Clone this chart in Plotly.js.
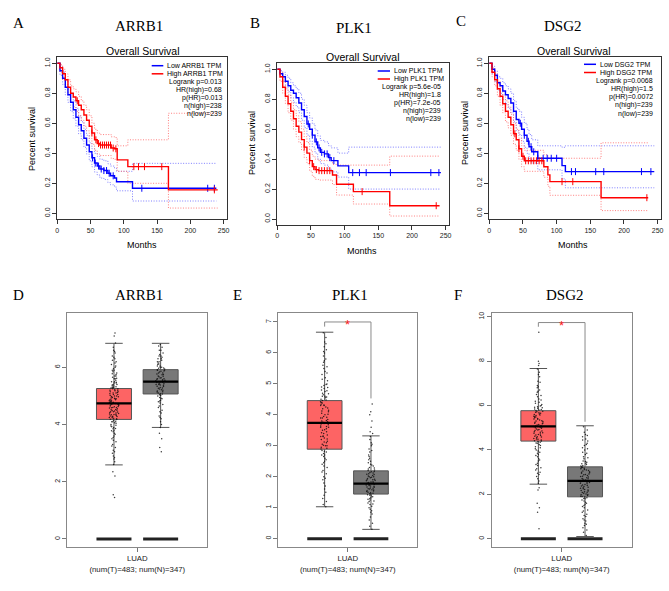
<!DOCTYPE html>
<html><head><meta charset="utf-8">
<script src="https://cdn.plot.ly/plotly-3.0.1.min.js"></script>
<style>html,body{margin:0;padding:0;background:#fff;}#chart{width:669px;height:591px;}</style>
</head><body><div id="chart"></div>
<script>
// ---------------- DATA ----------------
const monthTicks = [0, 50, 100, 150, 200, 250];
const survTicks = [0, 0.2, 0.4, 0.6, 0.8, 1.0];

// A: ARRB1 survival
const A_lowT  = [0,4,8,12,16,20,24,28,32,36,40,44,48,52,56,60,64,70,76,80,86,89,113,239];
const A_lowS  = [1.0,0.95,0.9,0.84,0.79,0.74,0.69,0.64,0.59,0.55,0.5,0.455,0.41,0.37,0.335,0.315,0.295,0.285,0.267,0.25,0.235,0.21,0.167,0.167];
const A_lowUp = [1.0,0.98,0.94,0.89,0.84,0.8,0.75,0.7,0.65,0.61,0.56,0.52,0.47,0.43,0.4,0.38,0.36,0.35,0.33,0.315,0.3,0.28,0.333,0.333];
const A_lowLo = [1.0,0.92,0.86,0.79,0.74,0.68,0.63,0.58,0.53,0.49,0.44,0.395,0.35,0.31,0.275,0.255,0.235,0.225,0.205,0.19,0.175,0.15,0.082,0.082];
const A_lowCens = [53,57,62,66,70,74,78,84,127,226,236];
const A_highT  = [0,4,8,12,16,20,24,28,32,36,40,44,48,52,56,60,64,81,86,90,106,167,241];
const A_highS  = [1.0,0.97,0.93,0.89,0.84,0.8,0.775,0.75,0.72,0.69,0.655,0.62,0.58,0.535,0.49,0.465,0.455,0.435,0.43,0.356,0.311,0.156,0.156];
const A_highUp = [1.0,0.99,0.96,0.93,0.89,0.85,0.83,0.81,0.78,0.75,0.72,0.69,0.65,0.6,0.56,0.535,0.525,0.51,0.505,0.45,0.49,0.667,0.667];
const A_highLo = [1.0,0.94,0.89,0.84,0.79,0.74,0.71,0.68,0.65,0.62,0.58,0.55,0.5,0.46,0.42,0.395,0.385,0.365,0.36,0.28,0.2,0.035,0.035];
const A_highCens = [30,52,58,62,65,68,71,74,77,80,84,88,115,122,131,157,236];
const A_stats = ['Logrank p=0.013','HR(high)=0.68','p(HR)=0.013','n(high)=238','n(low)=239'];

// B: PLK1 survival
const B_lowT  = [0,4,8,12,16,20,24,28,32,36,40,44,48,52,56,60,64,70,76,80,90,106,243];
const B_lowS  = [1.0,0.97,0.95,0.92,0.89,0.86,0.84,0.81,0.775,0.73,0.685,0.635,0.6,0.56,0.515,0.475,0.445,0.435,0.41,0.39,0.355,0.31,0.31];
const B_lowUp = [1.0,0.99,0.98,0.96,0.94,0.91,0.89,0.87,0.84,0.8,0.76,0.71,0.675,0.635,0.595,0.555,0.525,0.515,0.49,0.475,0.44,0.48,0.48];
const B_lowLo = [1.0,0.95,0.92,0.88,0.85,0.81,0.78,0.75,0.71,0.66,0.61,0.56,0.52,0.48,0.44,0.4,0.37,0.36,0.335,0.315,0.28,0.2,0.2];
const B_lowCens = [46,52,58,62,66,70,74,78,84,112,122,132,168,228,240];
const B_highT  = [0,4,8,12,16,20,24,28,32,36,40,44,48,52,56,61,82,88,113,167,241];
const B_highS  = [1.0,0.95,0.88,0.82,0.77,0.72,0.67,0.62,0.58,0.53,0.48,0.44,0.39,0.35,0.33,0.323,0.294,0.232,0.183,0.089,0.089];
const B_highUp = [1.0,0.98,0.92,0.87,0.83,0.78,0.73,0.69,0.65,0.6,0.55,0.51,0.46,0.42,0.4,0.39,0.365,0.36,0.36,0.42,0.42];
const B_highLo = [1.0,0.92,0.84,0.77,0.71,0.66,0.6,0.55,0.51,0.46,0.41,0.37,0.32,0.285,0.265,0.26,0.23,0.16,0.1,0.02,0.02];
const B_highCens = [40,48,54,58,62,66,70,74,78,126,236];
const B_stats = ['Logrank p=5.6e-05','HR(high)=1.8','p(HR)=7.2e-05','n(high)=239','n(low)=239'];

// C: DSG2 survival
const C_lowT  = [0,4,8,12,16,20,24,28,32,36,40,44,48,52,56,59,63,72,108,113,245];
const C_lowS  = [1.0,0.96,0.92,0.87,0.85,0.815,0.79,0.765,0.735,0.68,0.625,0.6,0.56,0.52,0.48,0.444,0.41,0.367,0.318,0.278,0.278];
const C_lowUp = [1.0,0.98,0.95,0.91,0.9,0.87,0.85,0.83,0.8,0.75,0.7,0.68,0.64,0.6,0.56,0.525,0.49,0.45,0.44,0.45,0.45];
const C_lowLo = [1.0,0.93,0.88,0.82,0.8,0.76,0.73,0.7,0.67,0.61,0.55,0.525,0.48,0.44,0.4,0.365,0.335,0.29,0.23,0.17,0.17];
const C_lowCens = [46,52,58,62,66,72,80,86,92,100,122,128,158,170,226,240];
const C_highT  = [0,4,8,12,16,20,24,28,32,36,40,44,48,52,81,87,90,166,236];
const C_highS  = [1.0,0.94,0.89,0.83,0.78,0.73,0.68,0.64,0.59,0.53,0.49,0.43,0.38,0.35,0.31,0.256,0.211,0.104,0.104];
const C_highUp = [1.0,0.97,0.93,0.88,0.84,0.79,0.75,0.71,0.66,0.6,0.56,0.5,0.45,0.42,0.39,0.37,0.367,0.47,0.47];
const C_highLo = [1.0,0.91,0.85,0.78,0.72,0.67,0.61,0.57,0.52,0.46,0.42,0.36,0.31,0.28,0.24,0.18,0.12,0.018,0.018];
const C_highCens = [38,44,50,54,58,62,66,70,74,78,108,124,234];
const C_stats = ['Logrank p=0.0068','HR(high)=1.5','p(HR)=0.0072','n(high)=239','n(low)=239'];

// Expression box plots: [lowerfence, q1, median, q3, upperfence]
const boxTickText = 'LUAD<br>(num(T)=483; num(N)=347)';
const D_tumorStats  = [2.59, 4.18, 4.74, 5.26, 6.84];
const D_normalStats = [3.90, 5.07, 5.50, 5.92, 6.84];
const E_tumorStats  = [1.03, 2.89, 3.74, 4.46, 6.67];
const E_normalStats = [0.30, 1.44, 1.78, 2.19, 3.32];
const F_tumorStats  = [2.46, 4.40, 5.06, 5.77, 7.67];
const F_normalStats = [0.10, 1.89, 2.61, 3.24, 5.09];
const zeroBar = [0];
// significance brackets: [left leg bottom, top, right leg bottom]
const E_sig = [6.85, 7.0, 4.53];
const F_sig = [9.55, 9.74, 5.27];

const D_tumorPts = [7.2,7.1,6.85,6.7,6.6,6.5,6.4,6.3,6.25,6.2,6.1,6.05,6.0,5.95,5.9,5.85,5.8,5.75,5.7,5.65,5.6,5.55,5.5,5.48,5.45,5.4,5.38,5.35,5.32,5.3,5.28,5.25,5.22,5.2,5.18,5.15,5.12,5.1,5.08,5.05,5.02,5.0,4.98,4.95,4.92,4.9,4.88,4.85,4.82,4.8,4.78,4.76,4.74,4.72,4.7,4.68,4.65,4.62,4.6,4.58,4.55,4.52,4.5,4.47,4.45,4.42,4.4,4.37,4.35,4.32,4.3,4.27,4.25,4.22,4.2,4.18,4.15,4.1,4.05,4.0,3.95,3.9,3.85,3.8,3.75,3.7,3.6,3.5,3.4,3.3,3.2,3.1,3.0,2.9,2.8,2.7,2.6,2.35,2.2,1.55,1.45,
  5.9,5.7,5.6,5.5,5.45,5.35,5.3,5.25,5.15,5.1,5.05,5.0,4.97,4.93,4.87,4.83,4.79,4.75,4.71,4.67,4.63,4.59,4.53,4.49,4.44,4.39,4.34,4.29,4.24,4.19,4.12,4.06,3.98,3.92,3.86,3.78,3.66,3.55,3.45,3.25,3.05,2.85,4.9,5.2,5.4,5.62,5.78,6.15,6.35,6.55,4.6,4.45,4.35,4.28,4.1];
const D_normalPts = [6.8,6.75,6.7,6.6,6.5,6.45,6.4,6.35,6.3,6.25,6.2,6.15,6.1,6.05,6.0,5.97,5.94,5.9,5.87,5.84,5.8,5.77,5.74,5.7,5.67,5.64,5.6,5.58,5.55,5.52,5.5,5.48,5.45,5.42,5.4,5.37,5.34,5.3,5.27,5.24,5.2,5.17,5.14,5.1,5.07,5.04,5.0,4.95,4.9,4.85,4.8,4.75,4.7,4.6,4.5,4.4,4.3,4.2,4.1,4.0,3.9,3.7,3.5,3.2,3.05,
  6.6,6.4,6.3,6.2,6.12,6.05,5.98,5.92,5.86,5.8,5.75,5.69,5.63,5.57,5.53,5.47,5.43,5.38,5.33,5.28,5.22,5.15,5.08,5.02,4.92,4.82,4.65,4.45,4.25,5.6,5.5,5.4,5.9,6.0];
const E_tumorPts = [6.65,6.5,6.35,6.2,6.1,6.0,5.9,5.8,5.7,5.6,5.5,5.4,5.3,5.2,5.1,5.0,4.95,4.9,4.85,4.8,4.75,4.7,4.65,4.6,4.55,4.5,4.46,4.42,4.38,4.34,4.3,4.25,4.2,4.15,4.1,4.05,4.0,3.95,3.9,3.85,3.8,3.76,3.74,3.72,3.68,3.64,3.6,3.55,3.5,3.45,3.4,3.35,3.3,3.25,3.2,3.15,3.1,3.05,3.0,2.95,2.9,2.85,2.8,2.7,2.6,2.5,2.4,2.3,2.2,2.1,2.0,1.9,1.8,1.7,1.6,1.5,1.4,1.3,1.2,1.1,1.03,
  4.98,4.88,4.78,4.68,4.58,4.48,4.4,4.32,4.22,4.12,4.02,3.92,3.82,3.78,3.7,3.62,3.52,3.42,3.32,3.22,3.12,3.02,2.92,2.82,2.75,2.65,2.55,2.45,2.35,2.15,1.95,5.15,5.35,5.55,5.75,6.05,6.3,4.6,4.3,3.9,3.6,3.3,3.0,2.7];
const E_normalPts = [4.35,4.1,4.0,3.8,3.6,3.45,3.3,3.2,3.1,3.0,2.9,2.8,2.7,2.6,2.5,2.45,2.4,2.35,2.3,2.25,2.2,2.17,2.14,2.1,2.07,2.04,2.0,1.97,1.94,1.9,1.87,1.84,1.81,1.78,1.75,1.72,1.69,1.66,1.63,1.6,1.57,1.54,1.5,1.47,1.44,1.4,1.35,1.3,1.25,1.2,1.15,1.1,1.0,0.9,0.8,0.7,0.6,0.5,0.4,0.3,
  2.38,2.28,2.22,2.16,2.12,2.08,2.02,1.98,1.92,1.88,1.83,1.79,1.76,1.73,1.7,1.67,1.64,1.61,1.58,1.55,1.52,1.48,1.45,1.42,1.38,1.32,1.27,1.22,1.12,1.05,0.95,0.85,2.55,2.65,2.85,3.05,3.4,1.8,1.9,2.0];
const F_tumorPts = [9.3,8.0,7.9,7.8,7.65,7.5,7.3,7.1,6.9,6.8,6.7,6.6,6.5,6.4,6.3,6.2,6.1,6.0,5.95,5.9,5.85,5.8,5.75,5.7,5.65,5.6,5.55,5.5,5.45,5.4,5.35,5.3,5.25,5.2,5.15,5.1,5.08,5.06,5.04,5.0,4.95,4.9,4.85,4.8,4.75,4.7,4.65,4.6,4.55,4.5,4.45,4.4,4.35,4.3,4.2,4.1,4.0,3.9,3.8,3.7,3.6,3.5,3.4,3.3,3.2,3.1,3.0,2.9,2.8,2.7,2.6,2.5,2.3,2.2,1.6,1.4,1.2,0.45,
  6.25,6.15,6.05,5.98,5.92,5.88,5.82,5.78,5.72,5.68,5.62,5.58,5.52,5.48,5.42,5.38,5.32,5.28,5.22,5.18,5.12,5.02,4.98,4.92,4.88,4.82,4.78,4.72,4.68,4.62,4.58,4.52,4.48,4.42,4.38,4.32,4.25,4.15,4.05,3.95,3.85,3.75,3.55,3.35,3.15,2.95,6.45,6.65,6.85,7.05,7.4];
const F_normalPts = [5.05,4.9,4.8,4.7,4.6,4.5,4.4,4.3,4.2,4.1,4.0,3.9,3.8,3.7,3.6,3.5,3.45,3.4,3.35,3.3,3.25,3.2,3.15,3.1,3.05,3.0,2.95,2.9,2.85,2.8,2.75,2.7,2.65,2.61,2.57,2.53,2.5,2.45,2.4,2.35,2.3,2.25,2.2,2.15,2.1,2.05,2.0,1.95,1.9,1.85,1.8,1.7,1.6,1.5,1.4,1.3,1.2,1.1,1.0,0.9,0.8,0.7,0.6,0.5,0.4,0.3,0.15,
  3.48,3.38,3.28,3.22,3.18,3.12,3.08,3.02,2.98,2.92,2.88,2.82,2.78,2.72,2.68,2.63,2.59,2.55,2.48,2.42,2.38,2.32,2.28,2.22,2.18,2.12,2.08,2.02,1.98,1.92,1.88,1.82,1.75,1.65,1.55,1.45,1.25,1.05,0.85,0.65,3.65,3.85,4.05,4.25,4.45,4.65];

const genes = ['ARRB1', 'PLK1', 'DSG2'];
const panelLetters = ['A','B','C','D','E','F'];

// ---------------- LAYOUT GEOMETRY ----------------
const W = 669, H = 591;
const fx = p => p / W, fy = p => 1 - p / H;
const SANS = 'Liberation Sans, Arial, sans-serif';
const SERIF = 'Liberation Serif, Times New Roman, serif';

const topFrames = [[57.3,227,57.3,219.3],[277.3,449,63.3,225],[489.3,661,57.3,219.3]];
const botFrames = [[67.3,207.3,313,547],[278.3,417.3,313,547],[491.7,631.7,313,547]];
const topLetterPos = [[18,23],[255,23],[461,21]];
const topGenePos = [[139,26],[354,28],[563,26]];
const ovsPos = [[143,51],[362.7,56.7],[573.7,51]];
const ylabPos = [[32,139],[252,143],[465,133]];
const xlabPos = [[142,245],[362,251],[573,245]];
const legendGeo = [ // swatch x0, x1, text right x, first row y, row step
  [151.7,163.3,222.7,65.7,8.1],
  [377.7,390,441.7,71,8.0],
  [584,596,654.3,64.3,8.2]
];
const botLetterPos = [[18,295],[237,295],[458,295]];
const botGenePos = [[139,295],[350,295],[565,295]];

const traces = [], annotations = [], shapes = [];
const layout = {
  width: W, height: H, margin: {l:0,r:0,t:0,b:0},
  paper_bgcolor: '#fff', plot_bgcolor: '#fff', showlegend: false,
  boxmode: 'overlay', font: {family: SANS, color: '#000'},
  annotations, shapes
};

function ann(text, x, y, size, extra) {
  annotations.push(Object.assign({
    text, x: fx(x), y: fy(y), xref: 'paper', yref: 'paper', showarrow: false, borderpad: 0,
    font: {family: SANS, size, color: '#000'}, xanchor: 'center', yanchor: 'middle'
  }, extra || {}));
}
function stepAt(t, s, x) { let v = s[0]; for (let i = 0; i < t.length; i++) if (t[i] <= x) v = s[i]; return v; }

// ---------------- KM PANELS ----------------
const km = [
  {low:{t:A_lowT,s:A_lowS,up:A_lowUp,lo:A_lowLo,c:A_lowCens}, high:{t:A_highT,s:A_highS,up:A_highUp,lo:A_highLo,c:A_highCens}, stats:A_stats},
  {low:{t:B_lowT,s:B_lowS,up:B_lowUp,lo:B_lowLo,c:B_lowCens}, high:{t:B_highT,s:B_highS,up:B_highUp,lo:B_highLo,c:B_highCens}, stats:B_stats},
  {low:{t:C_lowT,s:C_lowS,up:C_lowUp,lo:C_lowLo,c:C_lowCens}, high:{t:C_highT,s:C_highS,up:C_highUp,lo:C_highLo,c:C_highCens}, stats:C_stats}
];
const groupStyle = {low: {col:'#0000ff', ci:'#7070ff'}, high: {col:'#ff0000', ci:'#ff7070'}};

km.forEach((p, i) => {
  const n = i + 1, xa = 'x' + (n === 1 ? '' : n), ya = 'y' + (n === 1 ? '' : n);
  const fr = topFrames[i];
  layout['xaxis' + (n === 1 ? '' : n)] = {
    domain: [fx(fr[0]), fx(fr[1])], range: [0, 255], anchor: ya,
    tickvals: monthTicks, ticks: 'outside', ticklen: 4, tickcolor: '#333',
    showline: true, mirror: true, linecolor: '#333', linewidth: 1,
    showgrid: false, zeroline: false, tickfont: {size: 7, family: SANS, color: '#222'}
  };
  layout['yaxis' + (n === 1 ? '' : n)] = {
    domain: [fy(fr[3]), fy(fr[2])], range: [-0.04, 1.04], anchor: xa,
    tickvals: survTicks, tickformat: '.1f', tickangle: -90, ticks: 'outside', ticklen: 4, tickcolor: '#333',
    showline: true, mirror: true, linecolor: '#333', linewidth: 1,
    showgrid: false, zeroline: false, tickfont: {size: 7, family: SANS, color: '#222'}
  };
  ['low', 'high'].forEach(g => {
    const d = p[g], st = groupStyle[g];
    [d.up, d.lo].forEach(ci => traces.push({type:'scatter', mode:'lines', x:d.t, y:ci, xaxis:xa, yaxis:ya,
      line:{color:st.ci, width:0.9, dash:'1px,1.6px', shape:'hv'}, hoverinfo:'skip'}));
  });
  ['low', 'high'].forEach(g => {
    const d = p[g], st = groupStyle[g];
    traces.push({type:'scatter', mode:'lines', x:d.t, y:d.s, xaxis:xa, yaxis:ya,
      line:{color:st.col, width:1.4, shape:'hv'}});
    traces.push({type:'scatter', mode:'markers', x:d.c, y:d.c.map(c => stepAt(d.t, d.s, c)), xaxis:xa, yaxis:ya,
      marker:{symbol:'line-ns-open', size:5, color:st.col, line:{color:st.col, width:1}}});
  });
  // headings
  ann(panelLetters[i], topLetterPos[i][0], topLetterPos[i][1], 15, {font:{family:SERIF, size:15, color:'#000'}});
  ann(genes[i], topGenePos[i][0], topGenePos[i][1], 15, {font:{family:SERIF, size:15, color:'#000'}});
  ann('Overall Survival', ovsPos[i][0], ovsPos[i][1], 10.5);
  ann('Percent survival', ylabPos[i][0], ylabPos[i][1], 9, {textangle:-90});
  ann('Months', xlabPos[i][0], xlabPos[i][1], 9);
  // legend
  const lg = legendGeo[i];
  [['low','Low ' + genes[i] + ' TPM'], ['high','High ' + genes[i] + ' TPM']].forEach((it, k) => {
    const yy = lg[3] + k * lg[4];
    shapes.push({type:'line', xref:'paper', yref:'paper', x0:fx(lg[0]), x1:fx(lg[1]), y0:fy(yy), y1:fy(yy),
      line:{color:groupStyle[it[0]].col, width:1.5}});
    ann(it[1], lg[1] + 2.5, yy, 7, {xanchor:'left'});
  });
  p.stats.forEach((s, k) => ann(s, lg[2], lg[3] + (k + 2) * lg[4], 7, {xanchor:'right'}));
});

// ---------------- BOX PANELS ----------------
const boxPanels = [
  {tS:D_tumorStats, nS:D_normalStats, tP:D_tumorPts, nP:D_normalPts, ticks:[0,2,4,6], range:[-0.28,7.9], sig:null},
  {tS:E_tumorStats, nS:E_normalStats, tP:E_tumorPts, nP:E_normalPts, ticks:[0,1,2,3,4,5,6,7], range:[-0.27,7.29], sig:E_sig},
  {tS:F_tumorStats, nS:F_normalStats, tP:F_tumorPts, nP:F_normalPts, ticks:[0,2,4,6,8,10], range:[-0.37,10.17], sig:F_sig}
];
const posT = 0.8, posN = 1.2, bw = 0.3;
const tumorFill = '#fd6464', normalFill = '#787878';

boxPanels.forEach((p, i) => {
  const n = i + 4, xa = 'x' + n, ya = 'y' + n, fr = botFrames[i];
  layout['xaxis' + n] = {
    domain: [fx(fr[0]), fx(fr[1])], range: [0.4, 1.6], anchor: ya,
    tickvals: [1], ticktext: [boxTickText], ticks: 'outside', ticklen: 4, tickcolor: '#777',
    showline: true, mirror: true, linecolor: '#888', linewidth: 1,
    showgrid: false, zeroline: false, tickfont: {size: 7.8, family: SANS, color: '#222'}
  };
  layout['yaxis' + n] = {
    domain: [fy(fr[3]), fy(fr[2])], range: p.range, anchor: xa,
    tickvals: p.ticks, tickangle: -90, ticks: 'outside', ticklen: 4, tickcolor: '#777',
    showline: true, mirror: true, linecolor: '#888', linewidth: 1,
    showgrid: false, zeroline: false, tickfont: {size: 7, family: SANS, color: '#222'}
  };
  [[posT, p.tS, tumorFill], [posN, p.nS, normalFill]].forEach(([pos, st, fill]) => {
    traces.push({type:'box', x:[pos], lowerfence:[st[0]], q1:[st[1]], median:[st[2]], q3:[st[3]], upperfence:[st[4]],
      width:bw, fillcolor:fill, line:{color:'#555', width:1}, whiskerwidth:0.5, boxpoints:false,
      xaxis:xa, yaxis:ya, hoverinfo:'skip'});
  });
  [[posT, p.tP], [posN, p.nP]].forEach(([pos, pts]) => {
    traces.push({type:'box', y:pts, x0:pos, width:bw, boxpoints:'all', jitter:0.28, pointpos:0,
      fillcolor:'rgba(0,0,0,0)', line:{color:'rgba(0,0,0,0)', width:0}, whiskerwidth:0,
      marker:{size:1.5, color:'rgba(10,10,10,0.8)'}, xaxis:xa, yaxis:ya, hoverinfo:'skip'});
  });
  [[posT, p.tS[2]], [posN, p.nS[2]]].forEach(([pos, m]) => {
    traces.push({type:'box', x:[pos], lowerfence:[m], q1:[m], median:[m], q3:[m], upperfence:[m],
      width:bw, fillcolor:'rgba(0,0,0,0)', line:{color:'#000', width:2.2}, whiskerwidth:0, boxpoints:false,
      xaxis:xa, yaxis:ya, hoverinfo:'skip'});
  });
  [posT, posN].forEach(pos => {
    traces.push({type:'box', x:[pos], lowerfence:zeroBar, q1:zeroBar, median:zeroBar, q3:zeroBar, upperfence:zeroBar,
      width:bw, fillcolor:'rgba(0,0,0,0)', line:{color:'#222', width:3}, whiskerwidth:0, boxpoints:false,
      xaxis:xa, yaxis:ya, hoverinfo:'skip'});
  });
  if (p.sig) {
    traces.push({type:'scatter', mode:'lines', x:[posT, posT, posN, posN], y:[p.sig[0], p.sig[1], p.sig[1], p.sig[2]],
      line:{color:'#8a8a8a', width:1}, xaxis:xa, yaxis:ya, hoverinfo:'skip'});
    annotations.push({text:'*', x:1, y:p.sig[1], xref:xa, yref:ya, showarrow:false, yshift:-3, borderpad:0,
      font:{family:SANS, size:13, color:'#ff2020'}, xanchor:'center', yanchor:'middle'});
  }
  ann(panelLetters[i + 3], botLetterPos[i][0], botLetterPos[i][1], 15, {font:{family:SERIF, size:15, color:'#000'}});
  ann(genes[i], botGenePos[i][0], botGenePos[i][1], 15, {font:{family:SERIF, size:15, color:'#000'}});
});

Plotly.newPlot('chart', traces, layout, {displayModeBar:false, staticPlot:true});
</script></body></html>
